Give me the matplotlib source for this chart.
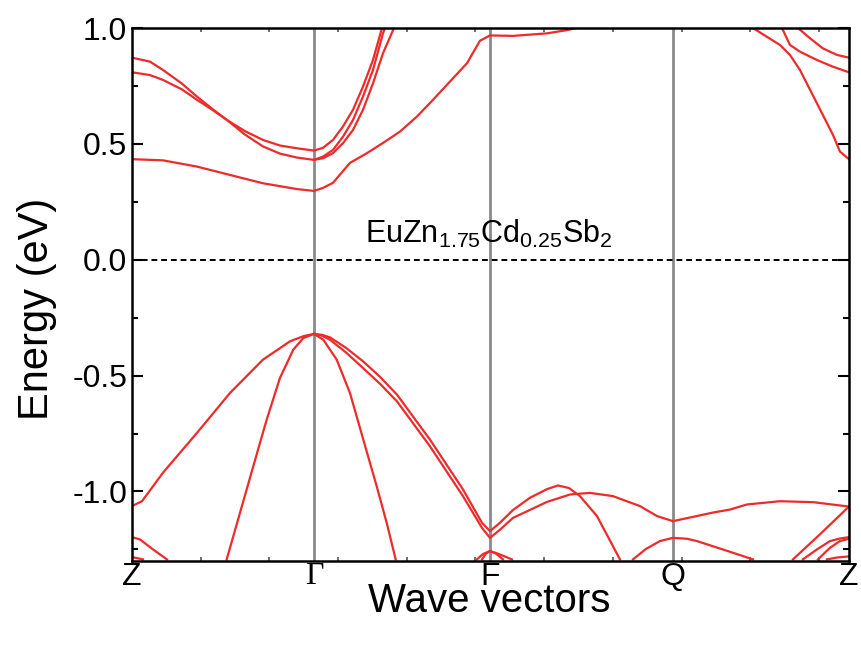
import matplotlib
matplotlib.use("Agg")
import matplotlib.pyplot as plt
from matplotlib.ticker import MultipleLocator, FormatStrFormatter

plt.rcParams["font.family"] = ["Liberation Sans", "DejaVu Sans"]
plt.rcParams["mathtext.fontset"] = "custom"
plt.rcParams["mathtext.rm"] = "Liberation Sans"
plt.rcParams["mathtext.it"] = "Liberation Sans"

# k-path positions of the high-symmetry points
kpts = [0, 182, 358, 541, 717]
klabels = ["Z", "Γ", "F", "Q", "Z"]

# conduction bands (k, E)
cb_a_k = [0, 18, 31, 50, 65, 80, 95, 113, 131, 148, 165, 182, 191, 201, 211, 221, 231, 241, 250]
cb_a_e = [0.872, 0.855, 0.819, 0.760, 0.704, 0.652, 0.603, 0.555, 0.517, 0.493, 0.481, 0.471, 0.483, 0.517, 0.575, 0.647, 0.747, 0.862, 1.0]
cb_b_k = [0, 18, 31, 50, 65, 80, 95, 113, 131, 148, 165, 182, 191, 201, 211, 221, 231, 241, 251, 253]
cb_b_e = [0.809, 0.797, 0.776, 0.735, 0.690, 0.648, 0.603, 0.540, 0.489, 0.458, 0.441, 0.431, 0.445, 0.474, 0.531, 0.603, 0.704, 0.819, 0.977, 1.0]
cb_c_k = [0, 31, 65, 98, 131, 165, 182, 191, 201, 218, 235, 251, 268, 285, 301, 318, 335, 348, 358, 381, 415, 435, 451]
cb_c_e = [0.434, 0.429, 0.402, 0.366, 0.330, 0.305, 0.297, 0.310, 0.332, 0.418, 0.460, 0.504, 0.553, 0.618, 0.690, 0.769, 0.848, 0.945, 0.968, 0.966, 0.977, 0.991, 1.006]
cb_d_k = [182, 191, 201, 211, 221, 231, 241, 251, 262]
cb_d_e = [0.431, 0.438, 0.460, 0.503, 0.560, 0.647, 0.761, 0.891, 1.0]
cb_e_k = [621, 635, 648, 658, 668, 685, 701, 708, 717]
cb_e_e = [1.0, 0.962, 0.927, 0.884, 0.819, 0.675, 0.539, 0.467, 0.434]
cb_f_k = [650, 658, 668, 685, 701, 717]
cb_f_e = [1.0, 0.927, 0.898, 0.862, 0.833, 0.809]
cb_g_k = [666, 678, 691, 705, 717]
cb_g_e = [1.0, 0.956, 0.912, 0.884, 0.872]

# valence bands
vb1_k = [0, 10, 31, 65, 98, 131, 158, 172, 182]
vb1_e = [-1.063, -1.042, -0.919, -0.747, -0.575, -0.431, -0.352, -0.329, -0.320]
vb2_k = [94.7, 108, 121.3, 134.7, 148, 161.3, 171.3, 182]
vb2_e = [-1.293, -1.092, -0.891, -0.690, -0.510, -0.388, -0.338, -0.320]
vb3_k = [182, 191.3, 204.7, 218, 231.3, 244.7, 254.7, 263.7]
vb3_e = [-0.320, -0.345, -0.431, -0.575, -0.776, -0.977, -1.135, -1.293]
vb4_k = [182, 190, 198, 214, 231, 248, 265, 298, 331, 350, 358, 368, 381, 398, 415, 426, 437, 448, 465, 481, 488]
vb4_e = [-0.320, -0.324, -0.335, -0.380, -0.438, -0.505, -0.582, -0.776, -0.991, -1.135, -1.171, -1.135, -1.080, -1.027, -0.990, -0.974, -0.985, -1.020, -1.106, -1.236, -1.293]
vb5_k = [182, 190, 198, 214, 231, 248, 265, 298, 331, 350, 358, 368, 381, 415, 438, 458, 481, 508, 525, 541]
vb5_e = [-0.320, -0.328, -0.345, -0.400, -0.467, -0.535, -0.611, -0.805, -1.020, -1.157, -1.200, -1.165, -1.114, -1.045, -1.013, -1.006, -1.020, -1.063, -1.106, -1.128]
vb6_k = [541, 581, 598, 615, 648, 681, 717]
vb6_e = [-1.128, -1.091, -1.078, -1.056, -1.042, -1.046, -1.065]
vb7_k = [501, 514, 528, 541, 555, 565, 598, 621]
vb7_e = [-1.293, -1.248, -1.214, -1.200, -1.204, -1.214, -1.260, -1.293]
vb8_k = [661, 688, 717]
vb8_e = [-1.293, -1.185, -1.065]
vb9_k = [671, 685, 698, 708, 717]
vb9_e = [-1.293, -1.250, -1.214, -1.203, -1.197]
vb10_k = [686, 698, 708, 717]
vb10_e = [-1.293, -1.243, -1.214, -1.204]
vb11_k = [695, 705, 717]
vb11_e = [-1.293, -1.285, -1.280]
vb12_k = [0, 8, 21, 35]
vb12_e = [-1.197, -1.207, -1.250, -1.293]
vb13_k = [0, 11]
vb13_e = [-1.283, -1.293]
vb14_k = [345, 351, 358, 364, 371]
vb14_e = [-1.293, -1.270, -1.257, -1.268, -1.293]
vb15_k = [350, 354, 358, 367, 380]
vb15_e = [-1.293, -1.268, -1.257, -1.270, -1.293]

bands = [
    (cb_a_k, cb_a_e), (cb_b_k, cb_b_e), (cb_c_k, cb_c_e), (cb_d_k, cb_d_e),
    (cb_e_k, cb_e_e), (cb_f_k, cb_f_e), (cb_g_k, cb_g_e),
    (vb1_k, vb1_e), (vb2_k, vb2_e), (vb3_k, vb3_e), (vb4_k, vb4_e),
    (vb5_k, vb5_e), (vb6_k, vb6_e), (vb7_k, vb7_e), (vb8_k, vb8_e),
    (vb9_k, vb9_e), (vb10_k, vb10_e), (vb11_k, vb11_e), (vb12_k, vb12_e),
    (vb13_k, vb13_e), (vb14_k, vb14_e), (vb15_k, vb15_e),
]

fig = plt.figure(figsize=(8.61, 6.47), dpi=100)
ax = fig.add_axes([0.1533, 0.1329, 0.8327, 0.8238])

for k in kpts[1:-1]:
    ax.axvline(k, color="#8a8a8a", lw=2.0, zorder=1)
ax.axhline(0, color="black", lw=1.4, ls=(0, (3, 2)), zorder=1)

for k, e in bands:
    ax.plot(k, e, color="#ee2a2a", lw=1.6, zorder=2, solid_joinstyle="round")

ax.set_xlim(kpts[0], kpts[-1])
ax.set_ylim(-1.3, 1.0)
ax.set_xticks(kpts)
ax.set_xticklabels(klabels)
for lab in ax.get_xticklabels():
    if lab.get_text() == "Γ":
        lab.set_family("Liberation Serif")
ax.xaxis.set_minor_locator(MultipleLocator(68.7))
ax.yaxis.set_major_locator(MultipleLocator(0.5))
ax.yaxis.set_minor_locator(MultipleLocator(0.25))
ax.yaxis.set_major_formatter(FormatStrFormatter("%.1f"))

ax.tick_params(which="both", direction="in", top=True, right=True, labelsize=23)
ax.tick_params(axis="y", which="major", length=8, width=1.5)
ax.tick_params(axis="y", which="minor", length=4.5, width=1.5)
ax.tick_params(axis="x", which="major", length=0, pad=1)
ax.tick_params(axis="x", which="minor", length=3, width=1.2, color="#555555")
for sp in ax.spines.values():
    sp.set_linewidth(1.8)

ax.set_xlabel("Wave vectors", fontsize=29)
ax.xaxis.set_label_coords(0.4986, -0.040)
ax.set_ylabel("Energy (eV)", fontsize=30)
ax.yaxis.set_label_coords(-0.105, 0.473)

ax.text(357, 0.073, r"EuZn$_{1.75}$Cd$_{0.25}$Sb$_{2}$", ha="center", va="baseline", fontsize=22)

fig.savefig("out.png", dpi=100)
